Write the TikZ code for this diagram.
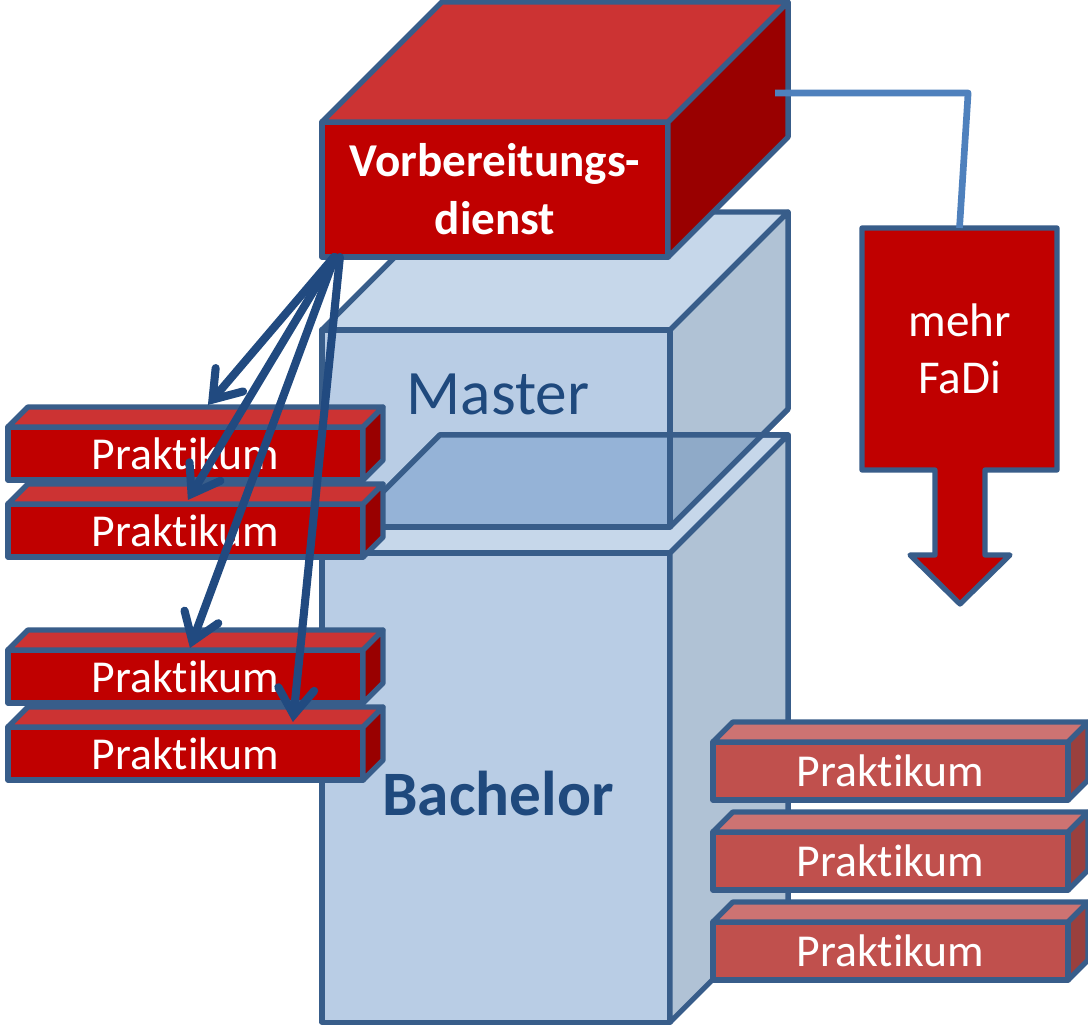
\documentclass[tikz,border=0pt]{standalone}
\usepackage{fontspec}
\setmainfont{Carlito}[Ligatures={NoCommon}]
\definecolor{edgeblue}{RGB}{56,93,138}
\definecolor{linkblue}{RGB}{33,74,128}
\definecolor{feedblue}{RGB}{79,129,189}
\definecolor{textblue}{RGB}{31,73,125}
\definecolor{vdfront}{RGB}{192,0,0}
\definecolor{vdtop}{RGB}{204,51,51}
\definecolor{vdside}{RGB}{153,0,0}
\definecolor{pkfront}{RGB}{192,80,77}
\definecolor{pktop}{RGB}{205,115,114}
\definecolor{pkside}{RGB}{154,64,62}
\definecolor{stfront}{RGB}{185,205,229}
\definecolor{sttop}{RGB}{198,215,234}
\definecolor{stside}{RGB}{176,194,213}
\definecolor{stmix}{RGB}{149,179,215}
\definecolor{stmixside}{RGB}{143,170,200}
\usetikzlibrary{arrows.meta, calc}

% top and right faces behind a front node: node, depth, top colour, side colour
\newcommand{\boxfaces}[4]{%
  \filldraw[face, fill=#3] (#1.north west) -- ($(#1.north west)+(#2,-#2)$)
    -- ($(#1.north east)+(#2,-#2)$) -- (#1.north east) -- cycle;
  \filldraw[face, fill=#4] (#1.north east) -- ($(#1.north east)+(#2,-#2)$)
    -- ($(#1.south east)+(#2,-#2)$) -- (#1.south east) -- cycle;
}

\begin{document}
\begin{tikzpicture}[
    x=0.01cm, y=-0.01cm,
    front/.style={draw=edgeblue, line width=1.5pt, line join=round, outer sep=0pt, inner sep=0pt, text=white},
    face/.style={draw=edgeblue, line width=1.5pt, line join=round},
    pkl/.style={front, fill=vdfront, minimum width=3.55cm, minimum height=0.53cm, font=\fontsize{13}{15}\selectfont},
    pkr/.style={front, fill=pkfront, minimum width=3.55cm, minimum height=0.58cm, font=\fontsize{13}{15}\selectfont},
    stage/.style={front, fill=stfront, minimum width=3.48cm},
    link/.style={-{Straight Barb[length=2.6mm, width=3.6mm, line cap=round]}, linkblue, line width=2.3pt, line cap=round},
    feed/.style={feedblue, line width=1.9pt, line join=round},
  ]
  \useasboundingbox (0,0) rectangle (1088,1027);
  \fill[white] (0,0) rectangle (1088,1027);

  % study stages
  \node[stage, minimum height=1.97cm] (master) at (496,428.5) {};
  \boxfaces{master}{118}{sttop}{stside}
  \node[stage, minimum height=4.69cm] (bach) at (496,787.5) {};
  \boxfaces{bach}{118}{sttop}{stside}

  % where Master lets Bachelor shine through
  \fill[stmix] (440,435) -- (670,435) -- (670,527) -- (348,527) -- cycle;
  \fill[stmixside] (670,435) -- (762,435) -- (670,527) -- cycle;
  \draw[face] (master.north west) rectangle (master.south east);
  \draw[face] (master.south east) -- ($(master.south east)+(118,-118)$);
  \draw[face] (bach.north west) -- ($(bach.north west)+(118,-118)$)
    -- ($(bach.north east)+(118,-118)$) -- (bach.north east) -- cycle;

  \node[text=textblue, font=\fontsize{18}{20}\selectfont] (mtxt) at (498,394) {Master};
  \node[text=textblue, font=\bfseries\fontsize{18}{20}\selectfont] (btxt) at (498,794) {Bachelor};

  % Vorbereitungsdienst
  \node[front, fill=vdfront, minimum width=3.46cm, minimum height=1.35cm, align=center,
    font=\bfseries\fontsize{13.4}{16.5}\selectfont] (vd) at (495,189.5) {Vorbereitungs-\\dienst};
  \boxfaces{vd}{120}{vdtop}{vdside}

  % mehr FaDi
  \filldraw[face, fill=vdfront] (862,228) -- (1057,228) -- (1057,470) -- (985,470) -- (985,555)
    -- (1010,555) -- (960,604) -- (910,555) -- (935,555) -- (935,470) -- (862,470) -- cycle;
  \node[text=white, align=center, outer sep=0pt, minimum width=1.95cm, minimum height=2.42cm,
    font=\fontsize{13.4}{16.3}\selectfont] (fadi) at (959.5,349) {mehr\\FaDi};
  \coordinate (vdtap) at ($(vd.north east)+(107,-29)$);
  \draw[feed] (vdtap) -- ++(193,0) -- (fadi.north);

  % Praktika
  \foreach \y/\n in {453.5/1, 530.5/2, 676.5/3, 753.5/4} {
    \node[pkl] (pl\n) at (185.5,\y) {Praktikum};
    \boxfaces{pl\n}{20}{vdtop}{vdside}
  }
  \foreach \y/\n in {771/1, 861/2, 951/3} {
    \node[pkr] (pr\n) at (890.5,\y) {Praktikum};
    \boxfaces{pr\n}{20}{pktop}{pkside}
  }

  \draw[link] ($(vd.south west)+(12,0)$) -- ($(pl1.north west)+(200,-22)$);
  \draw[link] ($(vd.south west)+(12,0)$) -- ($(pl2.north west)+(180,-4)$);
  \draw[link] ($(vd.south west)+(13,0)$) -- ($(pl3.north west)+(182,-2)$);
  \draw[link] ($(vd.south west)+(18,0)$) -- ($(pl4.north west)+(285,-5)$);
\end{tikzpicture}
\end{document}
